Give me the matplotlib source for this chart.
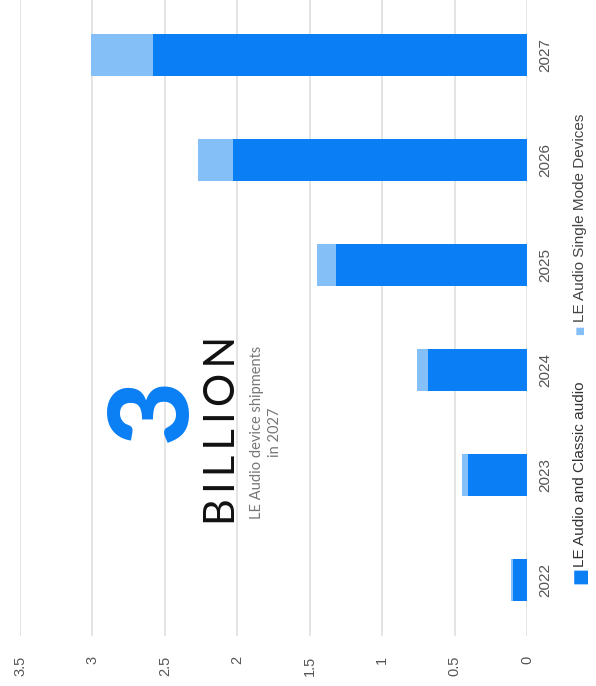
import matplotlib
matplotlib.use('Agg')
import matplotlib.pyplot as plt
import numpy as np

# data (billions of devices)
years = ['2022', '2023', '2024', '2025', '2026', '2027']
classic = [0.10, 0.41, 0.68, 1.32, 2.03, 2.58]
single_mode = [0.01, 0.04, 0.08, 0.13, 0.24, 0.43]
value_ticks = [0, 0.5, 1, 1.5, 2, 2.5, 3, 3.5]
series_names = ['LE Audio and Classic audio', 'LE Audio Single Mode Devices']

DARK = '#0a7ef4'
LIGHT = '#84bff8'
GRID = '#e2e2e2'
TXT = '#555555'

plt.rcParams['font.family'] = ['Liberation Sans', 'DejaVu Sans']

W, H = 596, 686
fig = plt.figure(figsize=(W / 100, H / 100), dpi=100)

# the whole chart is turned 90 degrees counter-clockwise
ax = fig.add_axes([20 / W, 1 - 636 / H, (527 - 20) / W, 636 / H])
pos = np.arange(len(years))
ax.barh(pos, classic, height=0.4, color=DARK, zorder=3)
ax.barh(pos, single_mode, left=classic, height=0.4, color=LIGHT, zorder=3)

ax.set_xlim(3.5, 0)
ax.set_ylim(-0.53, 5.52)
ax.set_xticks(value_ticks)
ax.set_xticklabels([f'{v:g}' for v in value_ticks], rotation=90, color=TXT, fontsize=10.5)
ax.set_yticks(pos)
ax.set_yticklabels(years, rotation=90, va='center', color=TXT, fontsize=11)
ax.yaxis.tick_right()
ax.tick_params(axis='x', length=0, pad=14)
ax.tick_params(axis='y', length=0, pad=8)
ax.grid(axis='x', color=GRID, linewidth=1.3, zorder=0)
for s in ax.spines.values():
    s.set_visible(False)

# callout
fig.text(153 / W, 1 - 410 / H, '3', rotation=90, ha='center', va='center',
         fontsize=80, fontweight='black', color=DARK, family=['Lato', 'DejaVu Sans'])
fig.text(223 / W, 1 - 430 / H, '\u2009'.join('BILLION'), rotation=90, ha='center',
         va='center', fontsize=30, color='#111111', family=['Lato', 'DejaVu Sans'])
fig.text(266 / W, 1 - 432 / H, 'LE Audio device shipments\nin 2027', rotation=90,
         ha='center', va='center', fontsize=10.5, color='#777777', linespacing=1.45,
         family=['Lato', 'DejaVu Sans'])

# legend, written bottom to top
fig.text(580 / W, 1 - 576 / H, '■', rotation=90, ha='center', va='center',
         fontsize=13, color=DARK, family=['DejaVu Sans'])
fig.text(580 / W, 1 - 567 / H, series_names[0], rotation=90, ha='center', va='bottom',
         fontsize=11, color='#333333')
fig.text(580 / W, 1 - 330 / H, '■', rotation=90, ha='center', va='center',
         fontsize=7, color=LIGHT, family=['DejaVu Sans'])
fig.text(580 / W, 1 - 322 / H, series_names[1], rotation=90, ha='center', va='bottom',
         fontsize=11, color='#444444')

fig.savefig('out.png', dpi=100)
